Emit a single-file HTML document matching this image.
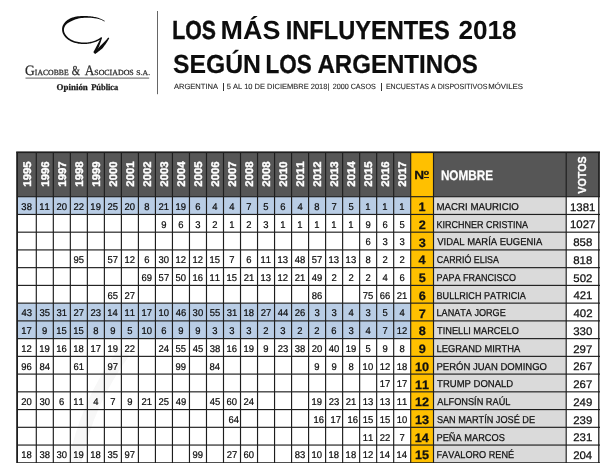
<!DOCTYPE html>
<html><head><meta charset="utf-8"><title>Los más influyentes 2018</title><style>
*{margin:0;padding:0;box-sizing:border-box}
html,body{width:600px;height:463px;overflow:hidden;background:#fff}
body{position:relative;font-family:"Liberation Sans",sans-serif;color:#000}
#w{position:absolute;left:0;top:0;width:600px;height:463px;will-change:transform}
.a{position:absolute}
.t{position:absolute;left:0;top:0;white-space:nowrap;line-height:1;text-rendering:geometricPrecision;font-kerning:none;transform-origin:0 0;-webkit-text-stroke:0.25px currentColor}
</style></head><body>
<div id="w">
<svg class="a" style="left:0;top:0" width="600" height="463" viewBox="0 0 600 463">
<rect x="157" y="11" width="1" height="83.2" fill="#666"/>
<rect x="25.5" y="77.5" width="123.7" height="1.2" fill="#7a7a7a"/>
<g fill="#0e0e0e"><path d="M104.76 21.06 L104.15 20.62 L103.49 20.19 L102.80 19.79 L102.07 19.41 L101.31 19.05 L100.52 18.71 L99.70 18.39 L98.86 18.09 L97.99 17.82 L97.09 17.57 L96.18 17.33 L95.24 17.12 L94.29 16.93 L93.32 16.75 L92.34 16.60 L91.34 16.46 L90.34 16.35 L89.32 16.25 L88.30 16.17 L87.27 16.11 L86.24 16.07 L85.21 16.04 L84.17 16.04 L82.57 16.04 L81.00 16.09 L79.46 16.21 L77.96 16.37 L76.50 16.59 L75.08 16.86 L73.71 17.19 L72.39 17.56 L71.12 17.99 L69.94 18.54 L68.84 19.16 L67.80 19.82 L66.84 20.53 L65.96 21.27 L65.15 22.06 L64.43 22.88 L63.80 23.74 L63.25 24.64 L62.81 25.56 L62.46 26.52 L62.23 27.49 L62.10 28.49 L62.08 29.50 L62.14 30.50 L62.29 31.49 L62.54 32.46 L62.88 33.41 L63.31 34.33 L63.82 35.23 L64.41 36.10 L65.09 36.94 L65.83 37.75 L66.66 38.51 L67.55 39.24 L68.51 39.93 L69.54 40.57 L70.64 41.17 L71.80 41.71 L73.02 42.21 L74.29 42.65 L75.63 43.04 L77.02 43.37 L78.46 43.64 L79.95 43.84 L81.49 43.98 L83.07 44.05 L84.00 44.06 L84.91 44.05 L85.82 44.01 L86.72 43.95 L87.61 43.86 L88.50 43.75 L89.37 43.62 L90.24 43.46 L91.10 43.28 L91.94 43.08 L92.78 42.86 L93.61 42.62 L94.42 42.35 L95.22 42.06 L96.00 41.75 L96.78 41.42 L97.53 41.08 L98.27 40.71 L99.00 40.32 L99.71 39.91 L100.40 39.49 L101.07 39.04 L101.71 38.59 L100.89 37.41 L100.26 37.85 L99.62 38.27 L98.97 38.67 L98.30 39.05 L97.61 39.42 L96.91 39.76 L96.19 40.09 L95.45 40.40 L94.71 40.69 L93.95 40.97 L93.17 41.22 L92.39 41.45 L91.59 41.66 L90.78 41.85 L89.96 42.02 L89.13 42.16 L88.30 42.29 L87.45 42.39 L86.60 42.47 L85.74 42.52 L84.87 42.56 L84.00 42.57 L83.13 42.55 L81.60 42.47 L80.13 42.33 L78.71 42.12 L77.34 41.85 L76.03 41.53 L74.78 41.15 L73.59 40.72 L72.46 40.24 L71.39 39.72 L70.38 39.15 L69.44 38.55 L68.57 37.91 L67.78 37.24 L67.05 36.55 L66.39 35.82 L65.81 35.08 L65.31 34.32 L64.88 33.54 L64.53 32.75 L64.26 31.94 L64.07 31.14 L63.95 30.32 L63.92 29.50 L64.00 28.70 L64.18 27.94 L64.43 27.19 L64.76 26.48 L65.18 25.78 L65.67 25.11 L66.24 24.47 L66.89 23.84 L67.62 23.25 L68.41 22.68 L69.28 22.15 L70.21 21.64 L71.21 21.17 L72.27 20.72 L73.36 20.22 L74.51 19.75 L75.73 19.33 L77.02 18.95 L78.35 18.61 L79.75 18.32 L81.19 18.08 L82.68 17.90 L84.23 17.76 L85.23 17.72 L86.23 17.69 L87.23 17.69 L88.24 17.70 L89.23 17.72 L90.22 17.77 L91.21 17.83 L92.18 17.91 L93.14 18.02 L94.09 18.14 L95.03 18.27 L95.94 18.43 L96.84 18.61 L97.72 18.81 L98.58 19.03 L99.41 19.27 L100.22 19.53 L101.00 19.81 L101.75 20.11 L102.47 20.43 L103.16 20.78 L103.81 21.14 L104.44 21.54Z"/><path d="M101.10 37.20 L100.62 38.21 L100.13 39.21 L99.64 40.21 L99.13 41.21 L98.62 42.20 L98.09 43.19 L97.56 44.18 L97.04 45.17 L96.53 46.18 L96.01 47.18 L95.49 48.17 L94.95 49.17 L94.41 50.16 L93.85 51.16 L93.28 52.15 L95.72 53.45 L96.23 52.42 L96.74 51.38 L97.24 50.33 L97.73 49.29 L98.21 48.25 L98.68 47.20 L99.13 46.15 L99.56 45.09 L99.96 44.02 L100.34 42.95 L100.71 41.88 L101.08 40.81 L101.43 39.74 L101.77 38.67 L102.10 37.60Z"/><path d="M94.97 54.02 L96.13 53.25 L97.29 52.44 L98.43 51.60 L99.56 50.74 L100.67 49.84 L101.76 48.91 L102.80 47.91 L103.69 46.77 L104.55 45.60 L105.39 44.40 L106.21 43.19 L107.01 41.96 L107.79 40.70 L108.54 39.42 L109.27 38.13 L108.33 37.47 L107.39 38.61 L106.43 39.70 L105.47 40.77 L104.49 41.81 L103.49 42.82 L102.49 43.80 L101.47 44.74 L100.43 45.66 L99.52 46.68 L98.62 47.72 L97.71 48.73 L96.77 49.72 L95.82 50.70 L94.84 51.64 L93.83 52.58Z"/></g>
<rect x="17.1" y="152.25" width="583.9" height="44.44999999999999" fill="#565656"/>
<rect x="410.70" y="152.25" width="22.80" height="311.75" fill="#ffc000"/>
<rect x="433.5" y="196.7" width="132.70" height="267.3" fill="#dadada"/>
<rect x="17.1" y="196.70" width="393.60" height="17.74" fill="#b9cde5"/>
<rect x="17.1" y="303.14" width="393.60" height="17.74" fill="#b9cde5"/>
<rect x="17.1" y="320.88" width="393.60" height="17.74" fill="#b9cde5"/>
<path d="M74 466 C82 425,100 385,124 352" fill="none" stroke="#f7f7f7" stroke-width="13"/>
<rect x="16.20" y="152.25" width="1.8" height="311.75" fill="#1e1e1e"/>
<rect x="35.72" y="152.25" width="1.15" height="311.75" fill="#1e1e1e"/>
<rect x="52.74" y="152.25" width="1.15" height="311.75" fill="#1e1e1e"/>
<rect x="69.76" y="152.25" width="1.15" height="311.75" fill="#1e1e1e"/>
<rect x="86.78" y="152.25" width="1.15" height="311.75" fill="#1e1e1e"/>
<rect x="103.80" y="152.25" width="1.15" height="311.75" fill="#1e1e1e"/>
<rect x="120.81" y="152.25" width="1.15" height="311.75" fill="#1e1e1e"/>
<rect x="137.83" y="152.25" width="1.15" height="311.75" fill="#1e1e1e"/>
<rect x="154.85" y="152.25" width="1.15" height="311.75" fill="#1e1e1e"/>
<rect x="171.87" y="152.25" width="1.15" height="311.75" fill="#1e1e1e"/>
<rect x="188.89" y="152.25" width="1.15" height="311.75" fill="#1e1e1e"/>
<rect x="205.91" y="152.25" width="1.15" height="311.75" fill="#1e1e1e"/>
<rect x="222.92" y="152.25" width="1.15" height="311.75" fill="#1e1e1e"/>
<rect x="239.94" y="152.25" width="1.15" height="311.75" fill="#1e1e1e"/>
<rect x="256.96" y="152.25" width="1.15" height="311.75" fill="#1e1e1e"/>
<rect x="273.98" y="152.25" width="1.15" height="311.75" fill="#1e1e1e"/>
<rect x="291.00" y="152.25" width="1.15" height="311.75" fill="#1e1e1e"/>
<rect x="308.01" y="152.25" width="1.15" height="311.75" fill="#1e1e1e"/>
<rect x="325.03" y="152.25" width="1.15" height="311.75" fill="#1e1e1e"/>
<rect x="342.05" y="152.25" width="1.15" height="311.75" fill="#1e1e1e"/>
<rect x="359.07" y="152.25" width="1.15" height="311.75" fill="#1e1e1e"/>
<rect x="376.09" y="152.25" width="1.15" height="311.75" fill="#1e1e1e"/>
<rect x="393.10" y="152.25" width="1.15" height="311.75" fill="#1e1e1e"/>
<rect x="410.12" y="152.25" width="1.15" height="311.75" fill="#1e1e1e"/>
<rect x="432.93" y="152.25" width="1.15" height="311.75" fill="#1e1e1e"/>
<rect x="565.62" y="152.25" width="1.15" height="311.75" fill="#1e1e1e"/>
<rect x="598.15" y="152.25" width="1.3" height="311.75" fill="#1e1e1e"/>
<rect x="16.20" y="151.40" width="584.80" height="1.7" fill="#1e1e1e"/>
<rect x="17.10" y="196.12" width="583.90" height="1.15" fill="#1e1e1e"/>
<rect x="17.10" y="213.87" width="583.90" height="1.15" fill="#1e1e1e"/>
<rect x="17.10" y="231.60" width="583.90" height="1.15" fill="#1e1e1e"/>
<rect x="17.10" y="249.34" width="583.90" height="1.15" fill="#1e1e1e"/>
<rect x="17.10" y="267.08" width="583.90" height="1.15" fill="#1e1e1e"/>
<rect x="17.10" y="284.82" width="583.90" height="1.15" fill="#1e1e1e"/>
<rect x="17.10" y="302.56" width="583.90" height="1.15" fill="#1e1e1e"/>
<rect x="17.10" y="320.31" width="583.90" height="1.15" fill="#1e1e1e"/>
<rect x="17.10" y="338.05" width="583.90" height="1.15" fill="#1e1e1e"/>
<rect x="17.10" y="355.79" width="583.90" height="1.15" fill="#1e1e1e"/>
<rect x="17.10" y="373.52" width="583.90" height="1.15" fill="#1e1e1e"/>
<rect x="17.10" y="391.26" width="583.90" height="1.15" fill="#1e1e1e"/>
<rect x="17.10" y="409.00" width="583.90" height="1.15" fill="#1e1e1e"/>
<rect x="17.10" y="426.74" width="583.90" height="1.15" fill="#1e1e1e"/>
<rect x="17.10" y="444.48" width="583.90" height="1.15" fill="#1e1e1e"/>
<rect x="17.10" y="462.22" width="583.90" height="1.15" fill="#1e1e1e"/>
</svg>
<div class="t " style="top:64px;font-size:14.3px;transform:translate(24.94px,0) scaleX(0.9469);color:#2a2a2a;font-family:'Liberation Serif',serif;">G</div>
<div class="t " style="top:69px;font-size:7.9px;transform:translate(34.82px,0) scaleX(0.9766);color:#2a2a2a;font-family:'Liberation Serif',serif;">IACOBBE</div>
<div class="t " style="top:64px;font-size:13.6px;transform:translate(71.79px,0) scaleX(0.7845);color:#2a2a2a;font-family:'Liberation Serif',serif;">&amp;</div>
<div class="t " style="top:64px;font-size:14.3px;transform:translate(84.77px,0) scaleX(0.9323);color:#2a2a2a;font-family:'Liberation Serif',serif;">A</div>
<div class="t " style="top:69px;font-size:7.9px;transform:translate(94.27px,0) scaleX(1.0003);color:#2a2a2a;font-family:'Liberation Serif',serif;">SOCIADOS</div>
<div class="t " style="top:70px;font-size:7.2px;transform:translate(136.28px,0) scaleX(1.0804);color:#2a2a2a;font-family:'Liberation Serif',serif;">S.A.</div>
<div class="t " style="top:83px;font-size:8.8px;transform:translate(56.56px,0) scaleX(1.0147);color:#1a1a1a;font-family:'Liberation Serif',serif;font-weight:bold;">Opinión</div>
<div class="t " style="top:83px;font-size:8.8px;transform:translate(91.16px,0) scaleX(0.9581);color:#1a1a1a;font-family:'Liberation Serif',serif;font-weight:bold;">Pública</div>
<div class="t " style="top:17px;font-size:26px;transform:translate(172.18px,0) scaleX(0.8167);color:#0d0d0d;font-weight:bold;-webkit-text-stroke:0.49px currentColor;">LOS</div>
<div class="t " style="top:17px;font-size:26px;transform:translate(220.60px,0) scaleX(1.0360);color:#0d0d0d;font-weight:bold;-webkit-text-stroke:0.00px currentColor;">MÁS</div>
<div class="t " style="top:17px;font-size:26px;transform:translate(285.72px,0) scaleX(0.9088);color:#0d0d0d;font-weight:bold;-webkit-text-stroke:0.27px currentColor;">INFLUYENTES</div>
<div class="t " style="top:17px;font-size:26px;transform:translate(458.39px,0) scaleX(1.0064);color:#0d0d0d;font-weight:bold;-webkit-text-stroke:0.03px currentColor;">2018</div>
<div class="t " style="top:51px;font-size:26px;transform:translate(172.89px,0) scaleX(0.9515);color:#0d0d0d;font-weight:bold;-webkit-text-stroke:0.16px currentColor;">SEGÚN</div>
<div class="t " style="top:51px;font-size:26px;transform:translate(265.50px,0) scaleX(0.8640);color:#0d0d0d;font-weight:bold;-webkit-text-stroke:0.37px currentColor;">LOS</div>
<div class="t " style="top:51px;font-size:26px;transform:translate(317.40px,0) scaleX(0.9261);color:#0d0d0d;font-weight:bold;-webkit-text-stroke:0.23px currentColor;">ARGENTINOS</div>
<div class="t " style="top:83px;font-size:7.6px;transform:translate(173.89px,0) scaleX(0.9953);color:#1e1e1e;-webkit-text-stroke:0.1px currentColor;">ARGENTINA</div>
<div class="a" style="left:222.8px;top:83.3px;width:0.9px;height:8.2px;background:#333"></div>
<div class="t " style="top:83px;font-size:7.6px;transform:translate(226.70px,0) scaleX(0.9863);color:#1e1e1e;-webkit-text-stroke:0.1px currentColor;">5 AL 10 DE DICIEMBRE 2018|</div>
<div class="t " style="top:83px;font-size:7.6px;transform:translate(332.64px,0) scaleX(0.9467);color:#1e1e1e;-webkit-text-stroke:0.1px currentColor;">2000 CASOS</div>
<div class="a" style="left:380.8px;top:83.3px;width:0.9px;height:8.2px;background:#333"></div>
<div class="t " style="top:83px;font-size:7.6px;transform:translate(385.92px,0) scaleX(0.9289);color:#1e1e1e;-webkit-text-stroke:0.1px currentColor;">ENCUESTAS A DISPOSITIVOS</div>
<div class="t " style="top:83px;font-size:7.6px;transform:translate(488.16px,0) scaleX(1.0330);color:#1e1e1e;-webkit-text-stroke:0.1px currentColor;">MÓVILES</div>
<div class="t" style="left:28.80px;top:174.20px;font-weight:bold;font-size:11.1px;color:#fff;-webkit-text-stroke:0.4px #fff;transform-origin:50% 50%;transform:translate(-50%,-50%) rotate(-90deg) scaleX(1.025)">1995</div>
<div class="t" style="left:46.91px;top:174.20px;font-weight:bold;font-size:11.1px;color:#fff;-webkit-text-stroke:0.4px #fff;transform-origin:50% 50%;transform:translate(-50%,-50%) rotate(-90deg) scaleX(1.025)">1996</div>
<div class="t" style="left:63.93px;top:174.20px;font-weight:bold;font-size:11.1px;color:#fff;-webkit-text-stroke:0.4px #fff;transform-origin:50% 50%;transform:translate(-50%,-50%) rotate(-90deg) scaleX(1.025)">1997</div>
<div class="t" style="left:80.94px;top:174.20px;font-weight:bold;font-size:11.1px;color:#fff;-webkit-text-stroke:0.4px #fff;transform-origin:50% 50%;transform:translate(-50%,-50%) rotate(-90deg) scaleX(1.025)">1998</div>
<div class="t" style="left:97.96px;top:174.20px;font-weight:bold;font-size:11.1px;color:#fff;-webkit-text-stroke:0.4px #fff;transform-origin:50% 50%;transform:translate(-50%,-50%) rotate(-90deg) scaleX(1.025)">1999</div>
<div class="t" style="left:114.98px;top:174.20px;font-weight:bold;font-size:11.1px;color:#fff;-webkit-text-stroke:0.4px #fff;transform-origin:50% 50%;transform:translate(-50%,-50%) rotate(-90deg) scaleX(1.025)">2000</div>
<div class="t" style="left:132.00px;top:174.20px;font-weight:bold;font-size:11.1px;color:#fff;-webkit-text-stroke:0.4px #fff;transform-origin:50% 50%;transform:translate(-50%,-50%) rotate(-90deg) scaleX(1.025)">2001</div>
<div class="t" style="left:149.02px;top:174.20px;font-weight:bold;font-size:11.1px;color:#fff;-webkit-text-stroke:0.4px #fff;transform-origin:50% 50%;transform:translate(-50%,-50%) rotate(-90deg) scaleX(1.025)">2002</div>
<div class="t" style="left:166.03px;top:174.20px;font-weight:bold;font-size:11.1px;color:#fff;-webkit-text-stroke:0.4px #fff;transform-origin:50% 50%;transform:translate(-50%,-50%) rotate(-90deg) scaleX(1.025)">2003</div>
<div class="t" style="left:183.05px;top:174.20px;font-weight:bold;font-size:11.1px;color:#fff;-webkit-text-stroke:0.4px #fff;transform-origin:50% 50%;transform:translate(-50%,-50%) rotate(-90deg) scaleX(1.025)">2004</div>
<div class="t" style="left:200.07px;top:174.20px;font-weight:bold;font-size:11.1px;color:#fff;-webkit-text-stroke:0.4px #fff;transform-origin:50% 50%;transform:translate(-50%,-50%) rotate(-90deg) scaleX(1.025)">2005</div>
<div class="t" style="left:217.09px;top:174.20px;font-weight:bold;font-size:11.1px;color:#fff;-webkit-text-stroke:0.4px #fff;transform-origin:50% 50%;transform:translate(-50%,-50%) rotate(-90deg) scaleX(1.025)">2006</div>
<div class="t" style="left:234.11px;top:174.20px;font-weight:bold;font-size:11.1px;color:#fff;-webkit-text-stroke:0.4px #fff;transform-origin:50% 50%;transform:translate(-50%,-50%) rotate(-90deg) scaleX(1.025)">2007</div>
<div class="t" style="left:251.12px;top:174.20px;font-weight:bold;font-size:11.1px;color:#fff;-webkit-text-stroke:0.4px #fff;transform-origin:50% 50%;transform:translate(-50%,-50%) rotate(-90deg) scaleX(1.025)">2008</div>
<div class="t" style="left:268.14px;top:174.20px;font-weight:bold;font-size:11.1px;color:#fff;-webkit-text-stroke:0.4px #fff;transform-origin:50% 50%;transform:translate(-50%,-50%) rotate(-90deg) scaleX(1.025)">2008</div>
<div class="t" style="left:285.16px;top:174.20px;font-weight:bold;font-size:11.1px;color:#fff;-webkit-text-stroke:0.4px #fff;transform-origin:50% 50%;transform:translate(-50%,-50%) rotate(-90deg) scaleX(1.025)">2010</div>
<div class="t" style="left:302.18px;top:174.20px;font-weight:bold;font-size:11.1px;color:#fff;-webkit-text-stroke:0.4px #fff;transform-origin:50% 50%;transform:translate(-50%,-50%) rotate(-90deg) scaleX(1.025)">2011</div>
<div class="t" style="left:319.20px;top:174.20px;font-weight:bold;font-size:11.1px;color:#fff;-webkit-text-stroke:0.4px #fff;transform-origin:50% 50%;transform:translate(-50%,-50%) rotate(-90deg) scaleX(1.025)">2012</div>
<div class="t" style="left:336.22px;top:174.20px;font-weight:bold;font-size:11.1px;color:#fff;-webkit-text-stroke:0.4px #fff;transform-origin:50% 50%;transform:translate(-50%,-50%) rotate(-90deg) scaleX(1.025)">2013</div>
<div class="t" style="left:353.23px;top:174.20px;font-weight:bold;font-size:11.1px;color:#fff;-webkit-text-stroke:0.4px #fff;transform-origin:50% 50%;transform:translate(-50%,-50%) rotate(-90deg) scaleX(1.025)">2014</div>
<div class="t" style="left:370.25px;top:174.20px;font-weight:bold;font-size:11.1px;color:#fff;-webkit-text-stroke:0.4px #fff;transform-origin:50% 50%;transform:translate(-50%,-50%) rotate(-90deg) scaleX(1.025)">2015</div>
<div class="t" style="left:387.27px;top:174.20px;font-weight:bold;font-size:11.1px;color:#fff;-webkit-text-stroke:0.4px #fff;transform-origin:50% 50%;transform:translate(-50%,-50%) rotate(-90deg) scaleX(1.025)">2016</div>
<div class="t" style="left:404.29px;top:174.20px;font-weight:bold;font-size:11.1px;color:#fff;-webkit-text-stroke:0.4px #fff;transform-origin:50% 50%;transform:translate(-50%,-50%) rotate(-90deg) scaleX(1.025)">2017</div>
<div class="t " style="top:170px;font-size:11.7px;transform:translate(414.19px,0) scaleX(1.1631);color:#111;font-weight:bold;">N</div>
<div class="t " style="top:170px;font-size:11.7px;transform:translate(423.78px,0) scaleX(1.2316);color:#111;font-weight:bold;">º</div>
<div class="a" style="left:424.1px;top:176.5px;width:4.7px;height:1.1px;background:#222"></div>
<div class="t " style="top:169px;font-size:13.8px;transform:translate(440.92px,0) scaleX(0.8485);color:#fff;font-weight:bold;">NOMBRE</div>
<div class="t" style="left:583.0px;top:174.6px;font-weight:bold;font-size:11.6px;color:#fff;transform-origin:50% 50%;transform:translate(-50%,-50%) rotate(-90deg) scaleX(0.92)">VOTOS</div>
<div class="t " style="top:203px;font-size:9.8px;transform:translate(21.37px,0) scaleX(0.9650);color:#0c0c0c;-webkit-text-stroke:0.22px currentColor;">38</div>
<div class="t " style="top:203px;font-size:9.8px;transform:translate(39.32px,0) scaleX(0.9650);color:#0c0c0c;-webkit-text-stroke:0.22px currentColor;">11</div>
<div class="t " style="top:203px;font-size:9.8px;transform:translate(56.41px,0) scaleX(0.9650);color:#0c0c0c;-webkit-text-stroke:0.22px currentColor;">20</div>
<div class="t " style="top:203px;font-size:9.8px;transform:translate(73.49px,0) scaleX(0.9650);color:#0c0c0c;-webkit-text-stroke:0.22px currentColor;">22</div>
<div class="t " style="top:203px;font-size:9.8px;transform:translate(90.37px,0) scaleX(0.9650);color:#0c0c0c;-webkit-text-stroke:0.22px currentColor;">19</div>
<div class="t " style="top:203px;font-size:9.8px;transform:translate(107.48px,0) scaleX(0.9650);color:#0c0c0c;-webkit-text-stroke:0.22px currentColor;">25</div>
<div class="t " style="top:203px;font-size:9.8px;transform:translate(124.49px,0) scaleX(0.9650);color:#0c0c0c;-webkit-text-stroke:0.22px currentColor;">20</div>
<div class="t " style="top:203px;font-size:9.8px;transform:translate(144.19px,0) scaleX(0.9650);color:#0c0c0c;-webkit-text-stroke:0.22px currentColor;">8</div>
<div class="t " style="top:203px;font-size:9.8px;transform:translate(158.57px,0) scaleX(0.9650);color:#0c0c0c;-webkit-text-stroke:0.22px currentColor;">21</div>
<div class="t " style="top:203px;font-size:9.8px;transform:translate(175.46px,0) scaleX(0.9650);color:#0c0c0c;-webkit-text-stroke:0.22px currentColor;">19</div>
<div class="t " style="top:203px;font-size:9.8px;transform:translate(195.21px,0) scaleX(0.9650);color:#0c0c0c;-webkit-text-stroke:0.22px currentColor;">6</div>
<div class="t " style="top:203px;font-size:9.8px;transform:translate(212.29px,0) scaleX(0.9650);color:#0c0c0c;-webkit-text-stroke:0.22px currentColor;">4</div>
<div class="t " style="top:203px;font-size:9.8px;transform:translate(229.31px,0) scaleX(0.9650);color:#0c0c0c;-webkit-text-stroke:0.22px currentColor;">4</div>
<div class="t " style="top:203px;font-size:9.8px;transform:translate(246.29px,0) scaleX(0.9650);color:#0c0c0c;-webkit-text-stroke:0.22px currentColor;">7</div>
<div class="t " style="top:203px;font-size:9.8px;transform:translate(263.32px,0) scaleX(0.9650);color:#0c0c0c;-webkit-text-stroke:0.22px currentColor;">5</div>
<div class="t " style="top:203px;font-size:9.8px;transform:translate(280.30px,0) scaleX(0.9650);color:#0c0c0c;-webkit-text-stroke:0.22px currentColor;">6</div>
<div class="t " style="top:203px;font-size:9.8px;transform:translate(297.38px,0) scaleX(0.9650);color:#0c0c0c;-webkit-text-stroke:0.22px currentColor;">4</div>
<div class="t " style="top:203px;font-size:9.8px;transform:translate(314.37px,0) scaleX(0.9650);color:#0c0c0c;-webkit-text-stroke:0.22px currentColor;">8</div>
<div class="t " style="top:203px;font-size:9.8px;transform:translate(331.38px,0) scaleX(0.9650);color:#0c0c0c;-webkit-text-stroke:0.22px currentColor;">7</div>
<div class="t " style="top:203px;font-size:9.8px;transform:translate(348.41px,0) scaleX(0.9650);color:#0c0c0c;-webkit-text-stroke:0.22px currentColor;">5</div>
<div class="t " style="top:203px;font-size:9.8px;transform:translate(365.29px,0) scaleX(0.9650);color:#0c0c0c;-webkit-text-stroke:0.22px currentColor;">1</div>
<div class="t " style="top:203px;font-size:9.8px;transform:translate(382.31px,0) scaleX(0.9650);color:#0c0c0c;-webkit-text-stroke:0.22px currentColor;">1</div>
<div class="t " style="top:203px;font-size:9.8px;transform:translate(399.33px,0) scaleX(0.9650);color:#0c0c0c;-webkit-text-stroke:0.22px currentColor;">1</div>
<div class="t " style="top:201px;font-size:12.2px;transform:translate(418.45px,0) scaleX(1.0400);color:#111;font-weight:bold;">1</div>
<div class="t " style="top:203px;font-size:10.0px;transform:translate(436.51px,0) scaleX(0.9689);color:#111;">MACRI MAURICIO</div>
<div class="t " style="top:203px;font-size:11.0px;transform:translate(569.92px,0) scaleX(1.0400);color:#111;">1381</div>
<div class="t " style="top:221px;font-size:9.8px;transform:translate(161.21px,0) scaleX(0.9650);color:#0c0c0c;-webkit-text-stroke:0.22px currentColor;">9</div>
<div class="t " style="top:221px;font-size:9.8px;transform:translate(178.19px,0) scaleX(0.9650);color:#0c0c0c;-webkit-text-stroke:0.22px currentColor;">6</div>
<div class="t " style="top:221px;font-size:9.8px;transform:translate(195.27px,0) scaleX(0.9650);color:#0c0c0c;-webkit-text-stroke:0.22px currentColor;">3</div>
<div class="t " style="top:221px;font-size:9.8px;transform:translate(212.26px,0) scaleX(0.9650);color:#0c0c0c;-webkit-text-stroke:0.22px currentColor;">2</div>
<div class="t " style="top:221px;font-size:9.8px;transform:translate(229.15px,0) scaleX(0.9650);color:#0c0c0c;-webkit-text-stroke:0.22px currentColor;">1</div>
<div class="t " style="top:221px;font-size:9.8px;transform:translate(246.30px,0) scaleX(0.9650);color:#0c0c0c;-webkit-text-stroke:0.22px currentColor;">2</div>
<div class="t " style="top:221px;font-size:9.8px;transform:translate(263.34px,0) scaleX(0.9650);color:#0c0c0c;-webkit-text-stroke:0.22px currentColor;">3</div>
<div class="t " style="top:221px;font-size:9.8px;transform:translate(280.20px,0) scaleX(0.9650);color:#0c0c0c;-webkit-text-stroke:0.22px currentColor;">1</div>
<div class="t " style="top:221px;font-size:9.8px;transform:translate(297.22px,0) scaleX(0.9650);color:#0c0c0c;-webkit-text-stroke:0.22px currentColor;">1</div>
<div class="t " style="top:221px;font-size:9.8px;transform:translate(314.24px,0) scaleX(0.9650);color:#0c0c0c;-webkit-text-stroke:0.22px currentColor;">1</div>
<div class="t " style="top:221px;font-size:9.8px;transform:translate(331.26px,0) scaleX(0.9650);color:#0c0c0c;-webkit-text-stroke:0.22px currentColor;">1</div>
<div class="t " style="top:221px;font-size:9.8px;transform:translate(348.27px,0) scaleX(0.9650);color:#0c0c0c;-webkit-text-stroke:0.22px currentColor;">1</div>
<div class="t " style="top:221px;font-size:9.8px;transform:translate(365.42px,0) scaleX(0.9650);color:#0c0c0c;-webkit-text-stroke:0.22px currentColor;">9</div>
<div class="t " style="top:221px;font-size:9.8px;transform:translate(382.41px,0) scaleX(0.9650);color:#0c0c0c;-webkit-text-stroke:0.22px currentColor;">6</div>
<div class="t " style="top:221px;font-size:9.8px;transform:translate(399.47px,0) scaleX(0.9650);color:#0c0c0c;-webkit-text-stroke:0.22px currentColor;">5</div>
<div class="t " style="top:219px;font-size:12.2px;transform:translate(418.71px,0) scaleX(1.0400);color:#111;font-weight:bold;">2</div>
<div class="t " style="top:221px;font-size:10.0px;transform:translate(436.56px,0) scaleX(0.8985);color:#111;">KIRCHNER CRISTINA</div>
<div class="t " style="top:220px;font-size:11.0px;transform:translate(569.93px,0) scaleX(1.0400);color:#111;">1027</div>
<div class="t " style="top:238px;font-size:9.8px;transform:translate(365.39px,0) scaleX(0.9650);color:#0c0c0c;-webkit-text-stroke:0.22px currentColor;">6</div>
<div class="t " style="top:238px;font-size:9.8px;transform:translate(382.47px,0) scaleX(0.9650);color:#0c0c0c;-webkit-text-stroke:0.22px currentColor;">3</div>
<div class="t " style="top:238px;font-size:9.8px;transform:translate(399.48px,0) scaleX(0.9650);color:#0c0c0c;-webkit-text-stroke:0.22px currentColor;">3</div>
<div class="t " style="top:237px;font-size:12.2px;transform:translate(418.76px,0) scaleX(1.0400);color:#111;font-weight:bold;">3</div>
<div class="t " style="top:238px;font-size:10.0px;transform:translate(437.26px,0) scaleX(0.9444);color:#111;">VIDAL MARÍA EUGENIA</div>
<div class="t " style="top:238px;font-size:11.0px;transform:translate(573.26px,0) scaleX(1.0400);color:#111;">858</div>
<div class="t " style="top:256px;font-size:9.8px;transform:translate(73.46px,0) scaleX(0.9650);color:#0c0c0c;-webkit-text-stroke:0.22px currentColor;">95</div>
<div class="t " style="top:256px;font-size:9.8px;transform:translate(107.57px,0) scaleX(0.9650);color:#0c0c0c;-webkit-text-stroke:0.22px currentColor;">57</div>
<div class="t " style="top:256px;font-size:9.8px;transform:translate(124.42px,0) scaleX(0.9650);color:#0c0c0c;-webkit-text-stroke:0.22px currentColor;">12</div>
<div class="t " style="top:256px;font-size:9.8px;transform:translate(144.15px,0) scaleX(0.9650);color:#0c0c0c;-webkit-text-stroke:0.22px currentColor;">6</div>
<div class="t " style="top:256px;font-size:9.8px;transform:translate(158.58px,0) scaleX(0.9650);color:#0c0c0c;-webkit-text-stroke:0.22px currentColor;">30</div>
<div class="t " style="top:256px;font-size:9.8px;transform:translate(175.47px,0) scaleX(0.9650);color:#0c0c0c;-webkit-text-stroke:0.22px currentColor;">12</div>
<div class="t " style="top:256px;font-size:9.8px;transform:translate(192.49px,0) scaleX(0.9650);color:#0c0c0c;-webkit-text-stroke:0.22px currentColor;">12</div>
<div class="t " style="top:256px;font-size:9.8px;transform:translate(209.47px,0) scaleX(0.9650);color:#0c0c0c;-webkit-text-stroke:0.22px currentColor;">15</div>
<div class="t " style="top:256px;font-size:9.8px;transform:translate(229.27px,0) scaleX(0.9650);color:#0c0c0c;-webkit-text-stroke:0.22px currentColor;">7</div>
<div class="t " style="top:256px;font-size:9.8px;transform:translate(246.26px,0) scaleX(0.9650);color:#0c0c0c;-webkit-text-stroke:0.22px currentColor;">6</div>
<div class="t " style="top:256px;font-size:9.8px;transform:translate(260.55px,0) scaleX(0.9650);color:#0c0c0c;-webkit-text-stroke:0.22px currentColor;">11</div>
<div class="t " style="top:256px;font-size:9.8px;transform:translate(277.55px,0) scaleX(0.9650);color:#0c0c0c;-webkit-text-stroke:0.22px currentColor;">13</div>
<div class="t " style="top:256px;font-size:9.8px;transform:translate(294.82px,0) scaleX(0.9650);color:#0c0c0c;-webkit-text-stroke:0.22px currentColor;">48</div>
<div class="t " style="top:256px;font-size:9.8px;transform:translate(311.79px,0) scaleX(0.9650);color:#0c0c0c;-webkit-text-stroke:0.22px currentColor;">57</div>
<div class="t " style="top:256px;font-size:9.8px;transform:translate(328.60px,0) scaleX(0.9650);color:#0c0c0c;-webkit-text-stroke:0.22px currentColor;">13</div>
<div class="t " style="top:256px;font-size:9.8px;transform:translate(345.62px,0) scaleX(0.9650);color:#0c0c0c;-webkit-text-stroke:0.22px currentColor;">13</div>
<div class="t " style="top:256px;font-size:9.8px;transform:translate(365.42px,0) scaleX(0.9650);color:#0c0c0c;-webkit-text-stroke:0.22px currentColor;">8</div>
<div class="t " style="top:256px;font-size:9.8px;transform:translate(382.44px,0) scaleX(0.9650);color:#0c0c0c;-webkit-text-stroke:0.22px currentColor;">2</div>
<div class="t " style="top:256px;font-size:9.8px;transform:translate(399.46px,0) scaleX(0.9650);color:#0c0c0c;-webkit-text-stroke:0.22px currentColor;">2</div>
<div class="t " style="top:254px;font-size:12.2px;transform:translate(418.61px,0) scaleX(1.0400);color:#111;font-weight:bold;">4</div>
<div class="t " style="top:256px;font-size:10.0px;transform:translate(436.85px,0) scaleX(0.8864);color:#111;">CARRIÓ ELISA</div>
<div class="t " style="top:256px;font-size:11.0px;transform:translate(573.26px,0) scaleX(1.0400);color:#111;">818</div>
<div class="t " style="top:274px;font-size:9.8px;transform:translate(141.54px,0) scaleX(0.9650);color:#0c0c0c;-webkit-text-stroke:0.22px currentColor;">69</div>
<div class="t " style="top:274px;font-size:9.8px;transform:translate(158.62px,0) scaleX(0.9650);color:#0c0c0c;-webkit-text-stroke:0.22px currentColor;">57</div>
<div class="t " style="top:274px;font-size:9.8px;transform:translate(175.59px,0) scaleX(0.9650);color:#0c0c0c;-webkit-text-stroke:0.22px currentColor;">50</div>
<div class="t " style="top:274px;font-size:9.8px;transform:translate(192.46px,0) scaleX(0.9650);color:#0c0c0c;-webkit-text-stroke:0.22px currentColor;">16</div>
<div class="t " style="top:274px;font-size:9.8px;transform:translate(209.50px,0) scaleX(0.9650);color:#0c0c0c;-webkit-text-stroke:0.22px currentColor;">11</div>
<div class="t " style="top:274px;font-size:9.8px;transform:translate(226.49px,0) scaleX(0.9650);color:#0c0c0c;-webkit-text-stroke:0.22px currentColor;">15</div>
<div class="t " style="top:274px;font-size:9.8px;transform:translate(243.66px,0) scaleX(0.9650);color:#0c0c0c;-webkit-text-stroke:0.22px currentColor;">21</div>
<div class="t " style="top:274px;font-size:9.8px;transform:translate(260.53px,0) scaleX(0.9650);color:#0c0c0c;-webkit-text-stroke:0.22px currentColor;">13</div>
<div class="t " style="top:274px;font-size:9.8px;transform:translate(277.58px,0) scaleX(0.9650);color:#0c0c0c;-webkit-text-stroke:0.22px currentColor;">12</div>
<div class="t " style="top:274px;font-size:9.8px;transform:translate(294.71px,0) scaleX(0.9650);color:#0c0c0c;-webkit-text-stroke:0.22px currentColor;">21</div>
<div class="t " style="top:274px;font-size:9.8px;transform:translate(311.85px,0) scaleX(0.9650);color:#0c0c0c;-webkit-text-stroke:0.22px currentColor;">49</div>
<div class="t " style="top:274px;font-size:9.8px;transform:translate(331.39px,0) scaleX(0.9650);color:#0c0c0c;-webkit-text-stroke:0.22px currentColor;">2</div>
<div class="t " style="top:274px;font-size:9.8px;transform:translate(348.40px,0) scaleX(0.9650);color:#0c0c0c;-webkit-text-stroke:0.22px currentColor;">2</div>
<div class="t " style="top:274px;font-size:9.8px;transform:translate(365.42px,0) scaleX(0.9650);color:#0c0c0c;-webkit-text-stroke:0.22px currentColor;">2</div>
<div class="t " style="top:274px;font-size:9.8px;transform:translate(382.47px,0) scaleX(0.9650);color:#0c0c0c;-webkit-text-stroke:0.22px currentColor;">4</div>
<div class="t " style="top:274px;font-size:9.8px;transform:translate(399.42px,0) scaleX(0.9650);color:#0c0c0c;-webkit-text-stroke:0.22px currentColor;">6</div>
<div class="t " style="top:272px;font-size:12.2px;transform:translate(418.65px,0) scaleX(1.0400);color:#111;font-weight:bold;">5</div>
<div class="t " style="top:274px;font-size:10.0px;transform:translate(436.56px,0) scaleX(0.8995);color:#111;">PAPA FRANCISCO</div>
<div class="t " style="top:274px;font-size:11.0px;transform:translate(573.32px,0) scaleX(1.0400);color:#111;">502</div>
<div class="t " style="top:292px;font-size:9.8px;transform:translate(107.48px,0) scaleX(0.9650);color:#0c0c0c;-webkit-text-stroke:0.22px currentColor;">65</div>
<div class="t " style="top:292px;font-size:9.8px;transform:translate(124.54px,0) scaleX(0.9650);color:#0c0c0c;-webkit-text-stroke:0.22px currentColor;">27</div>
<div class="t " style="top:292px;font-size:9.8px;transform:translate(311.74px,0) scaleX(0.9650);color:#0c0c0c;-webkit-text-stroke:0.22px currentColor;">86</div>
<div class="t " style="top:292px;font-size:9.8px;transform:translate(362.75px,0) scaleX(0.9650);color:#0c0c0c;-webkit-text-stroke:0.22px currentColor;">75</div>
<div class="t " style="top:292px;font-size:9.8px;transform:translate(379.78px,0) scaleX(0.9650);color:#0c0c0c;-webkit-text-stroke:0.22px currentColor;">66</div>
<div class="t " style="top:292px;font-size:9.8px;transform:translate(396.82px,0) scaleX(0.9650);color:#0c0c0c;-webkit-text-stroke:0.22px currentColor;">21</div>
<div class="t " style="top:290px;font-size:12.2px;transform:translate(418.67px,0) scaleX(1.0400);color:#111;font-weight:bold;">6</div>
<div class="t " style="top:292px;font-size:10.0px;transform:translate(436.56px,0) scaleX(0.9076);color:#111;">BULLRICH PATRICIA</div>
<div class="t " style="top:291px;font-size:11.0px;transform:translate(573.40px,0) scaleX(1.0400);color:#111;">421</div>
<div class="t " style="top:309px;font-size:9.8px;transform:translate(21.44px,0) scaleX(0.9650);color:#0c0c0c;-webkit-text-stroke:0.22px currentColor;">43</div>
<div class="t " style="top:309px;font-size:9.8px;transform:translate(39.47px,0) scaleX(0.9650);color:#0c0c0c;-webkit-text-stroke:0.22px currentColor;">35</div>
<div class="t " style="top:309px;font-size:9.8px;transform:translate(56.52px,0) scaleX(0.9650);color:#0c0c0c;-webkit-text-stroke:0.22px currentColor;">31</div>
<div class="t " style="top:309px;font-size:9.8px;transform:translate(73.49px,0) scaleX(0.9650);color:#0c0c0c;-webkit-text-stroke:0.22px currentColor;">27</div>
<div class="t " style="top:309px;font-size:9.8px;transform:translate(90.47px,0) scaleX(0.9650);color:#0c0c0c;-webkit-text-stroke:0.22px currentColor;">23</div>
<div class="t " style="top:309px;font-size:9.8px;transform:translate(107.30px,0) scaleX(0.9650);color:#0c0c0c;-webkit-text-stroke:0.22px currentColor;">14</div>
<div class="t " style="top:309px;font-size:9.8px;transform:translate(124.41px,0) scaleX(0.9650);color:#0c0c0c;-webkit-text-stroke:0.22px currentColor;">11</div>
<div class="t " style="top:309px;font-size:9.8px;transform:translate(141.44px,0) scaleX(0.9650);color:#0c0c0c;-webkit-text-stroke:0.22px currentColor;">17</div>
<div class="t " style="top:309px;font-size:9.8px;transform:translate(158.40px,0) scaleX(0.9650);color:#0c0c0c;-webkit-text-stroke:0.22px currentColor;">10</div>
<div class="t " style="top:309px;font-size:9.8px;transform:translate(175.69px,0) scaleX(0.9650);color:#0c0c0c;-webkit-text-stroke:0.22px currentColor;">46</div>
<div class="t " style="top:309px;font-size:9.8px;transform:translate(192.62px,0) scaleX(0.9650);color:#0c0c0c;-webkit-text-stroke:0.22px currentColor;">30</div>
<div class="t " style="top:309px;font-size:9.8px;transform:translate(209.64px,0) scaleX(0.9650);color:#0c0c0c;-webkit-text-stroke:0.22px currentColor;">55</div>
<div class="t " style="top:309px;font-size:9.8px;transform:translate(226.70px,0) scaleX(0.9650);color:#0c0c0c;-webkit-text-stroke:0.22px currentColor;">31</div>
<div class="t " style="top:309px;font-size:9.8px;transform:translate(243.51px,0) scaleX(0.9650);color:#0c0c0c;-webkit-text-stroke:0.22px currentColor;">18</div>
<div class="t " style="top:309px;font-size:9.8px;transform:translate(260.68px,0) scaleX(0.9650);color:#0c0c0c;-webkit-text-stroke:0.22px currentColor;">27</div>
<div class="t " style="top:309px;font-size:9.8px;transform:translate(277.73px,0) scaleX(0.9650);color:#0c0c0c;-webkit-text-stroke:0.22px currentColor;">44</div>
<div class="t " style="top:309px;font-size:9.8px;transform:translate(294.69px,0) scaleX(0.9650);color:#0c0c0c;-webkit-text-stroke:0.22px currentColor;">26</div>
<div class="t " style="top:309px;font-size:9.8px;transform:translate(314.39px,0) scaleX(0.9650);color:#0c0c0c;-webkit-text-stroke:0.22px currentColor;">3</div>
<div class="t " style="top:309px;font-size:9.8px;transform:translate(331.41px,0) scaleX(0.9650);color:#0c0c0c;-webkit-text-stroke:0.22px currentColor;">3</div>
<div class="t " style="top:309px;font-size:9.8px;transform:translate(348.43px,0) scaleX(0.9650);color:#0c0c0c;-webkit-text-stroke:0.22px currentColor;">4</div>
<div class="t " style="top:309px;font-size:9.8px;transform:translate(365.45px,0) scaleX(0.9650);color:#0c0c0c;-webkit-text-stroke:0.22px currentColor;">3</div>
<div class="t " style="top:309px;font-size:9.8px;transform:translate(382.45px,0) scaleX(0.9650);color:#0c0c0c;-webkit-text-stroke:0.22px currentColor;">5</div>
<div class="t " style="top:309px;font-size:9.8px;transform:translate(399.49px,0) scaleX(0.9650);color:#0c0c0c;-webkit-text-stroke:0.22px currentColor;">4</div>
<div class="t " style="top:308px;font-size:12.2px;transform:translate(418.68px,0) scaleX(1.0400);color:#111;font-weight:bold;">7</div>
<div class="t " style="top:309px;font-size:10.0px;transform:translate(436.56px,0) scaleX(0.9081);color:#111;">LANATA JORGE</div>
<div class="t " style="top:309px;font-size:11.0px;transform:translate(573.41px,0) scaleX(1.0400);color:#111;">402</div>
<div class="t " style="top:327px;font-size:9.8px;transform:translate(21.22px,0) scaleX(0.9650);color:#0c0c0c;-webkit-text-stroke:0.22px currentColor;">17</div>
<div class="t " style="top:327px;font-size:9.8px;transform:translate(42.08px,0) scaleX(0.9650);color:#0c0c0c;-webkit-text-stroke:0.22px currentColor;">9</div>
<div class="t " style="top:327px;font-size:9.8px;transform:translate(56.31px,0) scaleX(0.9650);color:#0c0c0c;-webkit-text-stroke:0.22px currentColor;">15</div>
<div class="t " style="top:327px;font-size:9.8px;transform:translate(73.32px,0) scaleX(0.9650);color:#0c0c0c;-webkit-text-stroke:0.22px currentColor;">15</div>
<div class="t " style="top:327px;font-size:9.8px;transform:translate(93.13px,0) scaleX(0.9650);color:#0c0c0c;-webkit-text-stroke:0.22px currentColor;">8</div>
<div class="t " style="top:327px;font-size:9.8px;transform:translate(110.15px,0) scaleX(0.9650);color:#0c0c0c;-webkit-text-stroke:0.22px currentColor;">9</div>
<div class="t " style="top:327px;font-size:9.8px;transform:translate(127.18px,0) scaleX(0.9650);color:#0c0c0c;-webkit-text-stroke:0.22px currentColor;">5</div>
<div class="t " style="top:327px;font-size:9.8px;transform:translate(141.38px,0) scaleX(0.9650);color:#0c0c0c;-webkit-text-stroke:0.22px currentColor;">10</div>
<div class="t " style="top:327px;font-size:9.8px;transform:translate(161.17px,0) scaleX(0.9650);color:#0c0c0c;-webkit-text-stroke:0.22px currentColor;">6</div>
<div class="t " style="top:327px;font-size:9.8px;transform:translate(178.23px,0) scaleX(0.9650);color:#0c0c0c;-webkit-text-stroke:0.22px currentColor;">9</div>
<div class="t " style="top:327px;font-size:9.8px;transform:translate(195.24px,0) scaleX(0.9650);color:#0c0c0c;-webkit-text-stroke:0.22px currentColor;">9</div>
<div class="t " style="top:327px;font-size:9.8px;transform:translate(212.29px,0) scaleX(0.9650);color:#0c0c0c;-webkit-text-stroke:0.22px currentColor;">3</div>
<div class="t " style="top:327px;font-size:9.8px;transform:translate(229.30px,0) scaleX(0.9650);color:#0c0c0c;-webkit-text-stroke:0.22px currentColor;">3</div>
<div class="t " style="top:327px;font-size:9.8px;transform:translate(246.32px,0) scaleX(0.9650);color:#0c0c0c;-webkit-text-stroke:0.22px currentColor;">3</div>
<div class="t " style="top:327px;font-size:9.8px;transform:translate(263.31px,0) scaleX(0.9650);color:#0c0c0c;-webkit-text-stroke:0.22px currentColor;">2</div>
<div class="t " style="top:327px;font-size:9.8px;transform:translate(280.36px,0) scaleX(0.9650);color:#0c0c0c;-webkit-text-stroke:0.22px currentColor;">3</div>
<div class="t " style="top:327px;font-size:9.8px;transform:translate(297.35px,0) scaleX(0.9650);color:#0c0c0c;-webkit-text-stroke:0.22px currentColor;">2</div>
<div class="t " style="top:327px;font-size:9.8px;transform:translate(314.37px,0) scaleX(0.9650);color:#0c0c0c;-webkit-text-stroke:0.22px currentColor;">2</div>
<div class="t " style="top:327px;font-size:9.8px;transform:translate(331.35px,0) scaleX(0.9650);color:#0c0c0c;-webkit-text-stroke:0.22px currentColor;">6</div>
<div class="t " style="top:327px;font-size:9.8px;transform:translate(348.43px,0) scaleX(0.9650);color:#0c0c0c;-webkit-text-stroke:0.22px currentColor;">3</div>
<div class="t " style="top:327px;font-size:9.8px;transform:translate(365.45px,0) scaleX(0.9650);color:#0c0c0c;-webkit-text-stroke:0.22px currentColor;">4</div>
<div class="t " style="top:327px;font-size:9.8px;transform:translate(382.43px,0) scaleX(0.9650);color:#0c0c0c;-webkit-text-stroke:0.22px currentColor;">7</div>
<div class="t " style="top:327px;font-size:9.8px;transform:translate(396.71px,0) scaleX(0.9650);color:#0c0c0c;-webkit-text-stroke:0.22px currentColor;">12</div>
<div class="t " style="top:325px;font-size:12.2px;transform:translate(418.67px,0) scaleX(1.0400);color:#111;font-weight:bold;">8</div>
<div class="t " style="top:327px;font-size:10.0px;transform:translate(437.09px,0) scaleX(0.9194);color:#111;">TINELLI MARCELO</div>
<div class="t " style="top:327px;font-size:11.0px;transform:translate(573.26px,0) scaleX(1.0400);color:#111;">330</div>
<div class="t " style="top:345px;font-size:9.8px;transform:translate(21.22px,0) scaleX(0.9650);color:#0c0c0c;-webkit-text-stroke:0.22px currentColor;">12</div>
<div class="t " style="top:345px;font-size:9.8px;transform:translate(39.31px,0) scaleX(0.9650);color:#0c0c0c;-webkit-text-stroke:0.22px currentColor;">19</div>
<div class="t " style="top:345px;font-size:9.8px;transform:translate(56.32px,0) scaleX(0.9650);color:#0c0c0c;-webkit-text-stroke:0.22px currentColor;">16</div>
<div class="t " style="top:345px;font-size:9.8px;transform:translate(73.33px,0) scaleX(0.9650);color:#0c0c0c;-webkit-text-stroke:0.22px currentColor;">18</div>
<div class="t " style="top:345px;font-size:9.8px;transform:translate(90.38px,0) scaleX(0.9650);color:#0c0c0c;-webkit-text-stroke:0.22px currentColor;">17</div>
<div class="t " style="top:345px;font-size:9.8px;transform:translate(107.39px,0) scaleX(0.9650);color:#0c0c0c;-webkit-text-stroke:0.22px currentColor;">19</div>
<div class="t " style="top:345px;font-size:9.8px;transform:translate(124.54px,0) scaleX(0.9650);color:#0c0c0c;-webkit-text-stroke:0.22px currentColor;">22</div>
<div class="t " style="top:345px;font-size:9.8px;transform:translate(158.48px,0) scaleX(0.9650);color:#0c0c0c;-webkit-text-stroke:0.22px currentColor;">24</div>
<div class="t " style="top:345px;font-size:9.8px;transform:translate(175.60px,0) scaleX(0.9650);color:#0c0c0c;-webkit-text-stroke:0.22px currentColor;">55</div>
<div class="t " style="top:345px;font-size:9.8px;transform:translate(192.70px,0) scaleX(0.9650);color:#0c0c0c;-webkit-text-stroke:0.22px currentColor;">45</div>
<div class="t " style="top:345px;font-size:9.8px;transform:translate(209.65px,0) scaleX(0.9650);color:#0c0c0c;-webkit-text-stroke:0.22px currentColor;">38</div>
<div class="t " style="top:345px;font-size:9.8px;transform:translate(226.50px,0) scaleX(0.9650);color:#0c0c0c;-webkit-text-stroke:0.22px currentColor;">16</div>
<div class="t " style="top:345px;font-size:9.8px;transform:translate(243.53px,0) scaleX(0.9650);color:#0c0c0c;-webkit-text-stroke:0.22px currentColor;">19</div>
<div class="t " style="top:345px;font-size:9.8px;transform:translate(263.32px,0) scaleX(0.9650);color:#0c0c0c;-webkit-text-stroke:0.22px currentColor;">9</div>
<div class="t " style="top:345px;font-size:9.8px;transform:translate(277.67px,0) scaleX(0.9650);color:#0c0c0c;-webkit-text-stroke:0.22px currentColor;">23</div>
<div class="t " style="top:345px;font-size:9.8px;transform:translate(294.74px,0) scaleX(0.9650);color:#0c0c0c;-webkit-text-stroke:0.22px currentColor;">38</div>
<div class="t " style="top:345px;font-size:9.8px;transform:translate(311.68px,0) scaleX(0.9650);color:#0c0c0c;-webkit-text-stroke:0.22px currentColor;">20</div>
<div class="t " style="top:345px;font-size:9.8px;transform:translate(328.83px,0) scaleX(0.9650);color:#0c0c0c;-webkit-text-stroke:0.22px currentColor;">40</div>
<div class="t " style="top:345px;font-size:9.8px;transform:translate(345.64px,0) scaleX(0.9650);color:#0c0c0c;-webkit-text-stroke:0.22px currentColor;">19</div>
<div class="t " style="top:345px;font-size:9.8px;transform:translate(365.43px,0) scaleX(0.9650);color:#0c0c0c;-webkit-text-stroke:0.22px currentColor;">5</div>
<div class="t " style="top:345px;font-size:9.8px;transform:translate(382.44px,0) scaleX(0.9650);color:#0c0c0c;-webkit-text-stroke:0.22px currentColor;">9</div>
<div class="t " style="top:345px;font-size:9.8px;transform:translate(399.46px,0) scaleX(0.9650);color:#0c0c0c;-webkit-text-stroke:0.22px currentColor;">8</div>
<div class="t " style="top:343px;font-size:12.2px;transform:translate(418.69px,0) scaleX(1.0400);color:#111;font-weight:bold;">9</div>
<div class="t " style="top:345px;font-size:10.0px;transform:translate(436.53px,0) scaleX(0.9367);color:#111;">LEGRAND MIRTHA</div>
<div class="t " style="top:345px;font-size:11.0px;transform:translate(573.26px,0) scaleX(1.0400);color:#111;">297</div>
<div class="t " style="top:363px;font-size:9.8px;transform:translate(21.33px,0) scaleX(0.9650);color:#0c0c0c;-webkit-text-stroke:0.22px currentColor;">96</div>
<div class="t " style="top:363px;font-size:9.8px;transform:translate(39.38px,0) scaleX(0.9650);color:#0c0c0c;-webkit-text-stroke:0.22px currentColor;">84</div>
<div class="t " style="top:363px;font-size:9.8px;transform:translate(73.48px,0) scaleX(0.9650);color:#0c0c0c;-webkit-text-stroke:0.22px currentColor;">61</div>
<div class="t " style="top:363px;font-size:9.8px;transform:translate(107.54px,0) scaleX(0.9650);color:#0c0c0c;-webkit-text-stroke:0.22px currentColor;">97</div>
<div class="t " style="top:363px;font-size:9.8px;transform:translate(175.60px,0) scaleX(0.9650);color:#0c0c0c;-webkit-text-stroke:0.22px currentColor;">99</div>
<div class="t " style="top:363px;font-size:9.8px;transform:translate(209.56px,0) scaleX(0.9650);color:#0c0c0c;-webkit-text-stroke:0.22px currentColor;">84</div>
<div class="t " style="top:363px;font-size:9.8px;transform:translate(314.37px,0) scaleX(0.9650);color:#0c0c0c;-webkit-text-stroke:0.22px currentColor;">9</div>
<div class="t " style="top:363px;font-size:9.8px;transform:translate(331.39px,0) scaleX(0.9650);color:#0c0c0c;-webkit-text-stroke:0.22px currentColor;">9</div>
<div class="t " style="top:363px;font-size:9.8px;transform:translate(348.40px,0) scaleX(0.9650);color:#0c0c0c;-webkit-text-stroke:0.22px currentColor;">8</div>
<div class="t " style="top:363px;font-size:9.8px;transform:translate(362.62px,0) scaleX(0.9650);color:#0c0c0c;-webkit-text-stroke:0.22px currentColor;">10</div>
<div class="t " style="top:363px;font-size:9.8px;transform:translate(379.69px,0) scaleX(0.9650);color:#0c0c0c;-webkit-text-stroke:0.22px currentColor;">12</div>
<div class="t " style="top:363px;font-size:9.8px;transform:translate(396.67px,0) scaleX(0.9650);color:#0c0c0c;-webkit-text-stroke:0.22px currentColor;">18</div>
<div class="t " style="top:361px;font-size:12.2px;transform:translate(415.00px,0) scaleX(1.0400);color:#111;font-weight:bold;">10</div>
<div class="t " style="top:363px;font-size:10.0px;transform:translate(436.52px,0) scaleX(0.9511);color:#111;">PERÓN JUAN DOMINGO</div>
<div class="t " style="top:362px;font-size:11.0px;transform:translate(573.26px,0) scaleX(1.0400);color:#111;">267</div>
<div class="t " style="top:380px;font-size:9.8px;transform:translate(379.69px,0) scaleX(0.9650);color:#0c0c0c;-webkit-text-stroke:0.22px currentColor;">17</div>
<div class="t " style="top:380px;font-size:9.8px;transform:translate(396.71px,0) scaleX(0.9650);color:#0c0c0c;-webkit-text-stroke:0.22px currentColor;">17</div>
<div class="t " style="top:379px;font-size:12.2px;transform:translate(414.92px,0) scaleX(1.0400);color:#111;font-weight:bold;">11</div>
<div class="t " style="top:380px;font-size:10.0px;transform:translate(437.09px,0) scaleX(0.9508);color:#111;">TRUMP DONALD</div>
<div class="t " style="top:380px;font-size:11.0px;transform:translate(573.26px,0) scaleX(1.0400);color:#111;">267</div>
<div class="t " style="top:398px;font-size:9.8px;transform:translate(21.29px,0) scaleX(0.9650);color:#0c0c0c;-webkit-text-stroke:0.22px currentColor;">20</div>
<div class="t " style="top:398px;font-size:9.8px;transform:translate(39.45px,0) scaleX(0.9650);color:#0c0c0c;-webkit-text-stroke:0.22px currentColor;">30</div>
<div class="t " style="top:398px;font-size:9.8px;transform:translate(59.06px,0) scaleX(0.9650);color:#0c0c0c;-webkit-text-stroke:0.22px currentColor;">6</div>
<div class="t " style="top:398px;font-size:9.8px;transform:translate(73.36px,0) scaleX(0.9650);color:#0c0c0c;-webkit-text-stroke:0.22px currentColor;">11</div>
<div class="t " style="top:398px;font-size:9.8px;transform:translate(93.16px,0) scaleX(0.9650);color:#0c0c0c;-webkit-text-stroke:0.22px currentColor;">4</div>
<div class="t " style="top:398px;font-size:9.8px;transform:translate(110.15px,0) scaleX(0.9650);color:#0c0c0c;-webkit-text-stroke:0.22px currentColor;">7</div>
<div class="t " style="top:398px;font-size:9.8px;transform:translate(127.17px,0) scaleX(0.9650);color:#0c0c0c;-webkit-text-stroke:0.22px currentColor;">9</div>
<div class="t " style="top:398px;font-size:9.8px;transform:translate(141.55px,0) scaleX(0.9650);color:#0c0c0c;-webkit-text-stroke:0.22px currentColor;">21</div>
<div class="t " style="top:398px;font-size:9.8px;transform:translate(158.54px,0) scaleX(0.9650);color:#0c0c0c;-webkit-text-stroke:0.22px currentColor;">25</div>
<div class="t " style="top:398px;font-size:9.8px;transform:translate(175.71px,0) scaleX(0.9650);color:#0c0c0c;-webkit-text-stroke:0.22px currentColor;">49</div>
<div class="t " style="top:398px;font-size:9.8px;transform:translate(209.72px,0) scaleX(0.9650);color:#0c0c0c;-webkit-text-stroke:0.22px currentColor;">45</div>
<div class="t " style="top:398px;font-size:9.8px;transform:translate(226.59px,0) scaleX(0.9650);color:#0c0c0c;-webkit-text-stroke:0.22px currentColor;">60</div>
<div class="t " style="top:398px;font-size:9.8px;transform:translate(243.57px,0) scaleX(0.9650);color:#0c0c0c;-webkit-text-stroke:0.22px currentColor;">24</div>
<div class="t " style="top:398px;font-size:9.8px;transform:translate(311.60px,0) scaleX(0.9650);color:#0c0c0c;-webkit-text-stroke:0.22px currentColor;">19</div>
<div class="t " style="top:398px;font-size:9.8px;transform:translate(328.73px,0) scaleX(0.9650);color:#0c0c0c;-webkit-text-stroke:0.22px currentColor;">23</div>
<div class="t " style="top:398px;font-size:9.8px;transform:translate(345.77px,0) scaleX(0.9650);color:#0c0c0c;-webkit-text-stroke:0.22px currentColor;">21</div>
<div class="t " style="top:398px;font-size:9.8px;transform:translate(362.64px,0) scaleX(0.9650);color:#0c0c0c;-webkit-text-stroke:0.22px currentColor;">13</div>
<div class="t " style="top:398px;font-size:9.8px;transform:translate(379.66px,0) scaleX(0.9650);color:#0c0c0c;-webkit-text-stroke:0.22px currentColor;">13</div>
<div class="t " style="top:398px;font-size:9.8px;transform:translate(396.70px,0) scaleX(0.9650);color:#0c0c0c;-webkit-text-stroke:0.22px currentColor;">11</div>
<div class="t " style="top:396px;font-size:12.2px;transform:translate(415.00px,0) scaleX(1.0400);color:#111;font-weight:bold;">12</div>
<div class="t " style="top:398px;font-size:10.0px;transform:translate(437.28px,0) scaleX(0.9202);color:#111;">ALFONSÍN RAÚL</div>
<div class="t " style="top:398px;font-size:11.0px;transform:translate(573.24px,0) scaleX(1.0400);color:#111;">249</div>
<div class="t " style="top:416px;font-size:9.8px;transform:translate(228.45px,0) scaleX(0.9650);color:#0c0c0c;-webkit-text-stroke:0.22px currentColor;">64</div>
<div class="t " style="top:416px;font-size:9.8px;transform:translate(313.49px,0) scaleX(0.9650);color:#0c0c0c;-webkit-text-stroke:0.22px currentColor;">16</div>
<div class="t " style="top:416px;font-size:9.8px;transform:translate(330.53px,0) scaleX(0.9650);color:#0c0c0c;-webkit-text-stroke:0.22px currentColor;">17</div>
<div class="t " style="top:416px;font-size:9.8px;transform:translate(347.52px,0) scaleX(0.9650);color:#0c0c0c;-webkit-text-stroke:0.22px currentColor;">16</div>
<div class="t " style="top:416px;font-size:9.8px;transform:translate(362.63px,0) scaleX(0.9650);color:#0c0c0c;-webkit-text-stroke:0.22px currentColor;">15</div>
<div class="t " style="top:416px;font-size:9.8px;transform:translate(379.65px,0) scaleX(0.9650);color:#0c0c0c;-webkit-text-stroke:0.22px currentColor;">15</div>
<div class="t " style="top:416px;font-size:9.8px;transform:translate(396.65px,0) scaleX(0.9650);color:#0c0c0c;-webkit-text-stroke:0.22px currentColor;">10</div>
<div class="t " style="top:414px;font-size:12.2px;transform:translate(414.97px,0) scaleX(1.0400);color:#111;font-weight:bold;">13</div>
<div class="t " style="top:416px;font-size:10.0px;transform:translate(436.88px,0) scaleX(0.9149);color:#111;">SAN MARTÍN JOSÉ DE</div>
<div class="t " style="top:416px;font-size:11.0px;transform:translate(573.24px,0) scaleX(1.0400);color:#111;">239</div>
<div class="t " style="top:434px;font-size:9.8px;transform:translate(362.66px,0) scaleX(0.9650);color:#0c0c0c;-webkit-text-stroke:0.22px currentColor;">11</div>
<div class="t " style="top:434px;font-size:9.8px;transform:translate(379.81px,0) scaleX(0.9650);color:#0c0c0c;-webkit-text-stroke:0.22px currentColor;">22</div>
<div class="t " style="top:434px;font-size:9.8px;transform:translate(399.45px,0) scaleX(0.9650);color:#0c0c0c;-webkit-text-stroke:0.22px currentColor;">7</div>
<div class="t " style="top:432px;font-size:12.2px;transform:translate(414.78px,0) scaleX(1.0400);color:#111;font-weight:bold;">14</div>
<div class="t " style="top:434px;font-size:10.0px;transform:translate(436.54px,0) scaleX(0.9240);color:#111;">PEÑA MARCOS</div>
<div class="t " style="top:433px;font-size:11.0px;transform:translate(573.25px,0) scaleX(1.0400);color:#111;">231</div>
<div class="t " style="top:451px;font-size:9.8px;transform:translate(21.19px,0) scaleX(0.9650);color:#0c0c0c;-webkit-text-stroke:0.22px currentColor;">18</div>
<div class="t " style="top:451px;font-size:9.8px;transform:translate(39.47px,0) scaleX(0.9650);color:#0c0c0c;-webkit-text-stroke:0.22px currentColor;">38</div>
<div class="t " style="top:451px;font-size:9.8px;transform:translate(56.47px,0) scaleX(0.9650);color:#0c0c0c;-webkit-text-stroke:0.22px currentColor;">30</div>
<div class="t " style="top:451px;font-size:9.8px;transform:translate(73.35px,0) scaleX(0.9650);color:#0c0c0c;-webkit-text-stroke:0.22px currentColor;">19</div>
<div class="t " style="top:451px;font-size:9.8px;transform:translate(90.35px,0) scaleX(0.9650);color:#0c0c0c;-webkit-text-stroke:0.22px currentColor;">18</div>
<div class="t " style="top:451px;font-size:9.8px;transform:translate(107.54px,0) scaleX(0.9650);color:#0c0c0c;-webkit-text-stroke:0.22px currentColor;">35</div>
<div class="t " style="top:451px;font-size:9.8px;transform:translate(124.56px,0) scaleX(0.9650);color:#0c0c0c;-webkit-text-stroke:0.22px currentColor;">97</div>
<div class="t " style="top:451px;font-size:9.8px;transform:translate(192.61px,0) scaleX(0.9650);color:#0c0c0c;-webkit-text-stroke:0.22px currentColor;">99</div>
<div class="t " style="top:451px;font-size:9.8px;transform:translate(226.65px,0) scaleX(0.9650);color:#0c0c0c;-webkit-text-stroke:0.22px currentColor;">27</div>
<div class="t " style="top:451px;font-size:9.8px;transform:translate(243.61px,0) scaleX(0.9650);color:#0c0c0c;-webkit-text-stroke:0.22px currentColor;">60</div>
<div class="t " style="top:451px;font-size:9.8px;transform:translate(294.72px,0) scaleX(0.9650);color:#0c0c0c;-webkit-text-stroke:0.22px currentColor;">83</div>
<div class="t " style="top:451px;font-size:9.8px;transform:translate(311.56px,0) scaleX(0.9650);color:#0c0c0c;-webkit-text-stroke:0.22px currentColor;">10</div>
<div class="t " style="top:451px;font-size:9.8px;transform:translate(328.60px,0) scaleX(0.9650);color:#0c0c0c;-webkit-text-stroke:0.22px currentColor;">18</div>
<div class="t " style="top:451px;font-size:9.8px;transform:translate(345.62px,0) scaleX(0.9650);color:#0c0c0c;-webkit-text-stroke:0.22px currentColor;">18</div>
<div class="t " style="top:451px;font-size:9.8px;transform:translate(362.67px,0) scaleX(0.9650);color:#0c0c0c;-webkit-text-stroke:0.22px currentColor;">12</div>
<div class="t " style="top:451px;font-size:9.8px;transform:translate(379.59px,0) scaleX(0.9650);color:#0c0c0c;-webkit-text-stroke:0.22px currentColor;">14</div>
<div class="t " style="top:451px;font-size:9.8px;transform:translate(396.61px,0) scaleX(0.9650);color:#0c0c0c;-webkit-text-stroke:0.22px currentColor;">14</div>
<div class="t " style="top:449px;font-size:12.2px;transform:translate(414.92px,0) scaleX(1.0400);color:#111;font-weight:bold;">15</div>
<div class="t " style="top:451px;font-size:10.0px;transform:translate(436.55px,0) scaleX(0.9120);color:#111;">FAVALORO RENÉ</div>
<div class="t " style="top:451px;font-size:11.0px;transform:translate(573.14px,0) scaleX(1.0400);color:#111;">204</div>
</div>
</body></html>
